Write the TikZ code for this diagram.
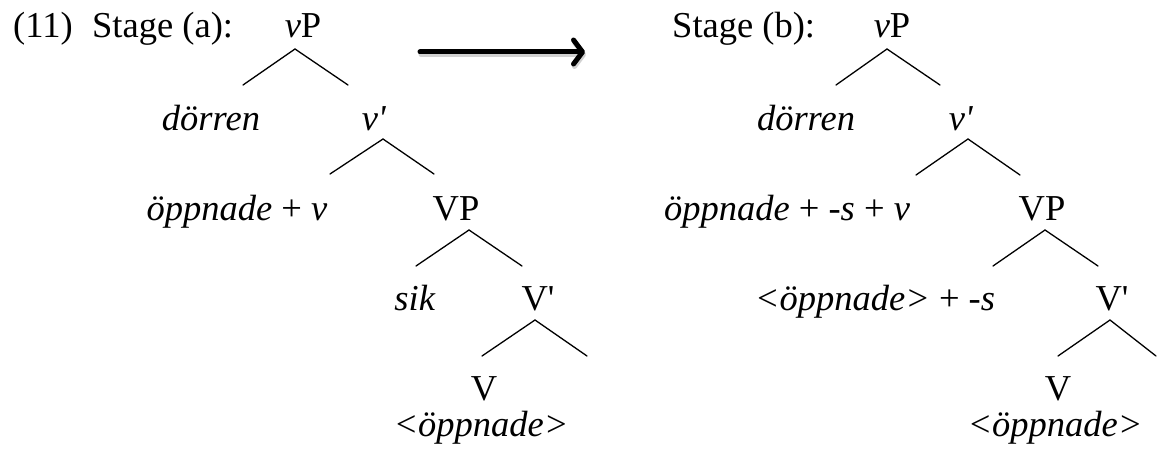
\documentclass[tikz,border=0pt]{standalone}
\usepackage{fontspec}
\setmainfont{Liberation Serif}[Ligatures=TeXOff]
\usetikzlibrary{arrows.meta}
\begin{document}
\begin{tikzpicture}[x=1pt,y=-1pt,
  lbl/.style={anchor=base, inner sep=0pt, font=\fontsize{36.5}{44}\selectfont},
  lblw/.style={anchor=base west, inner sep=0pt, font=\fontsize{36.5}{44}\selectfont},
  br/.style={line width=1.3pt, line cap=round},
  bigarrow/.style={line width=5pt, line cap=round, -{Straight Barb[length=9pt,width=24pt,line cap=round,round]}}]
\useasboundingbox (0,0) rectangle (1157,452);
% ---------- Stage (a)
\node[lblw] (n11) at (13,38) {(11)};
\node[lblw] (sta) at (92,38) {Stage (a):};
\node[lbl] (vPa) at (303,38) {\textit{v}P};
\node[lbl] (dora) at (211,130) {\textit{dörren}};
\node[lbl] (vba) at (374,130) {\textit{v'}};
\node[lbl] (opa) at (237,220) {\textit{öppnade} + \textit{v}};
\node[lbl] (VPa) at (456,220) {VP};
\node[lbl] (sika) at (415,310) {\textit{sik}};
\node[lbl] (Vba) at (538,310) {V'};
\node[lbl] (Va) at (484,400) {V};
\node[lbl] (tra) at (481,436) {\textit{<öppnade>}};
\coordinate (a1t) at (295,49); \coordinate (a1l) at (243,85); \coordinate (a1r) at (348,85);
\coordinate (a2t) at (383,139); \coordinate (a2l) at (330,174); \coordinate (a2r) at (434,174);
\coordinate (a3t) at (469,230); \coordinate (a3l) at (416,266); \coordinate (a3r) at (522,266);
\coordinate (a4t) at (535,320); \coordinate (a4l) at (482,356); \coordinate (a4r) at (587,356);
\draw[br] (a1l) -- (a1t) -- (a1r);
\draw[br] (a2l) -- (a2t) -- (a2r);
\draw[br] (a3l) -- (a3t) -- (a3r);
\draw[br] (a4l) -- (a4t) -- (a4r);
% ---------- arrow
\coordinate (arrs) at (420,52); \coordinate (arre) at (585,52);
\draw[bigarrow, black!18, transform canvas={shift={(1pt,-2.5pt)}}] (arrs) -- (arre);
\draw[bigarrow] (arrs) -- (arre);
% ---------- Stage (b)
\node[lblw] (stb) at (672,38) {Stage (b):};
\node[lbl] (vPb) at (892,38) {\textit{v}P};
\node[lbl] (dorb) at (806,130) {\textit{dörren}};
\node[lbl] (vbb) at (961,130) {\textit{v'}};
\node[lbl] (opb) at (787,220) {\textit{öppnade} + -\textit{s} + \textit{v}};
\node[lbl] (VPb) at (1042,220) {VP};
\node[lbl] (sb) at (875,310) {\textit{<öppnade>} + -\textit{s}};
\node[lbl] (Vbb) at (1112,310) {V'};
\node[lbl] (Vb) at (1058,400) {V};
\node[lbl] (trb) at (1055,436) {\textit{<öppnade>}};
\coordinate (b1t) at (887,49); \coordinate (b1l) at (836,85); \coordinate (b1r) at (940,85);
\coordinate (b2t) at (968,139); \coordinate (b2l) at (916,175); \coordinate (b2r) at (1020,175);
\coordinate (b3t) at (1045,230); \coordinate (b3l) at (993,266); \coordinate (b3r) at (1098,266);
\coordinate (b4t) at (1110,320); \coordinate (b4l) at (1058,356); \coordinate (b4r) at (1156,356);
\draw[br] (b1l) -- (b1t) -- (b1r);
\draw[br] (b2l) -- (b2t) -- (b2r);
\draw[br] (b3l) -- (b3t) -- (b3r);
\draw[br] (b4l) -- (b4t) -- (b4r);
\end{tikzpicture}
\end{document}
